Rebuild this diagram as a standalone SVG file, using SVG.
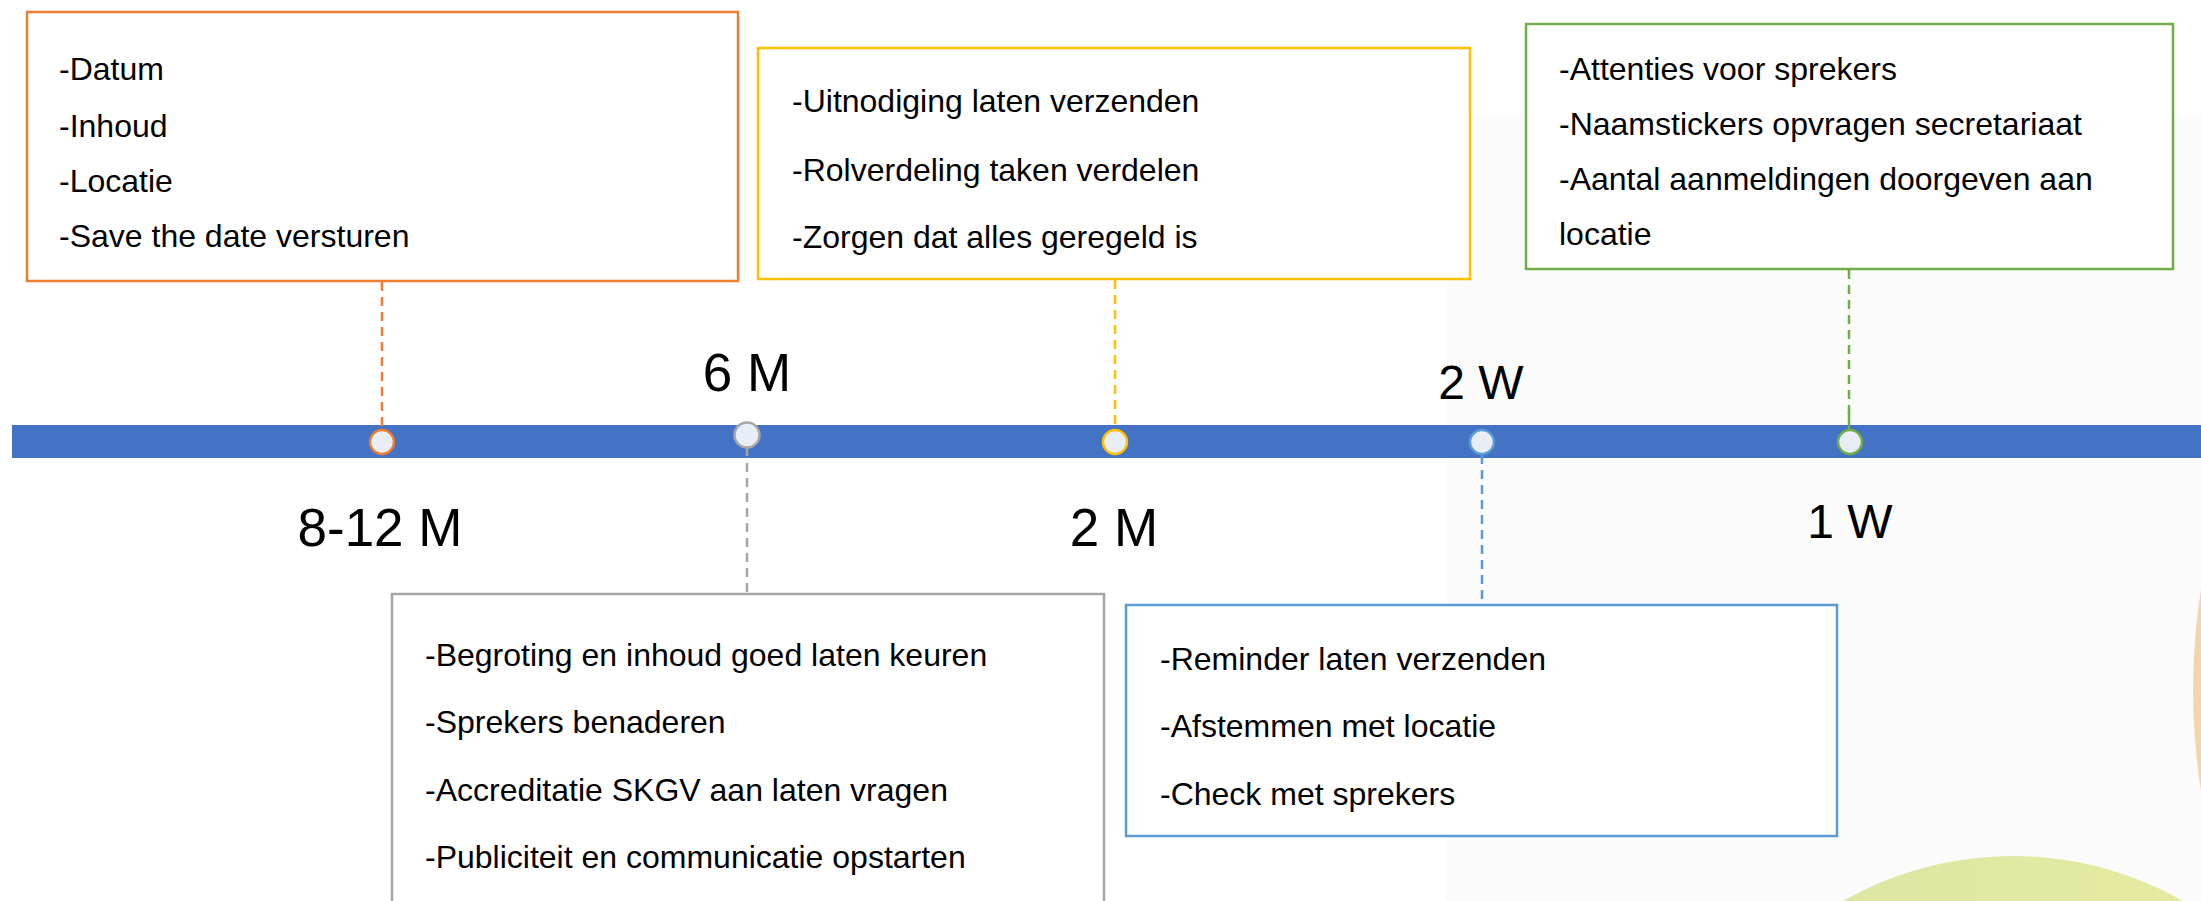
<svg xmlns="http://www.w3.org/2000/svg" width="2201" height="901" viewBox="0 0 2201 901">
  <defs>
    <linearGradient id="gGreen" x1="0" y1="0" x2="1" y2="0">
      <stop offset="0" stop-color="#D8E3A4"/>
      <stop offset="1" stop-color="#EAEDA0"/>
    </linearGradient>
    <linearGradient id="gPeach" x1="0" y1="0" x2="1" y2="0">
      <stop offset="0" stop-color="#F3D4B0"/>
      <stop offset="1" stop-color="#F7DDB8"/>
    </linearGradient>
  </defs>
  <style>
    .box { fill: #FFFFFF; stroke-width: 2.5; }
    .txt { font-family: "Liberation Sans", Arial, sans-serif; font-size: 32px; fill: #000000; }
    .lblM { font-family: "Liberation Sans", Arial, sans-serif; font-size: 53px; fill: #000000; text-anchor: middle; }
    .lblW { font-family: "Liberation Sans", Arial, sans-serif; font-size: 48px; fill: #000000; text-anchor: middle; }
    .dash { stroke-width: 2.5; stroke-dasharray: 9 6; fill: none; }
    .dot { fill: #E9EEF6; stroke-width: 2.5; }
  </style>

  <rect x="0" y="0" width="2201" height="901" fill="#FFFFFF"/>
  <rect x="1447" y="113" width="754" height="788" fill="#FBFBFB"/>
  <ellipse cx="2800" cy="690" rx="607" ry="620" fill="url(#gPeach)"/>
  <circle cx="2013" cy="1199" r="343" fill="url(#gGreen)"/>

  <rect id="timeline-bar" x="12" y="425" width="2189" height="33" fill="#4472C4"/>

  <g id="connectors">
    <line class="dash" x1="382" y1="282" x2="382" y2="429" stroke="#ED7D31"/>
    <line x1="747" y1="447" x2="747" y2="456" stroke="#A5A5A5" stroke-width="2.5"/>
    <line class="dash" x1="747" y1="463" x2="747" y2="593" stroke="#A5A5A5"/>
    <line class="dash" x1="1115" y1="280" x2="1115" y2="429" stroke="#FFC000"/>
    <line class="dash" x1="1482" y1="455" x2="1482" y2="604" stroke="#5B9BD5"/>
    <line class="dash" x1="1849" y1="270" x2="1849" y2="415" stroke="#70AD47"/>
    <line x1="1849" y1="412" x2="1849" y2="429" stroke="#70AD47" stroke-width="2.5"/>
  </g>

  <g id="node-8-12M">
    <rect class="box" x="27" y="12" width="711" height="269" stroke="#ED7D31"/>
    <text class="txt" x="59" y="80">-Datum</text>
    <text class="txt" x="59" y="137">-Inhoud</text>
    <text class="txt" x="59" y="192">-Locatie</text>
    <text class="txt" x="59" y="247">-Save the date versturen</text>
    <circle class="dot" cx="382" cy="442" r="12" stroke="#ED7D31"/>
    <text class="lblM" x="380" y="546">8-12 M</text>
  </g>

  <g id="node-6M">
    <rect class="box" x="392" y="594" width="712" height="330" stroke="#A5A5A5"/>
    <text class="txt" x="425" y="666">-Begroting en inhoud goed laten keuren</text>
    <text class="txt" x="425" y="733">-Sprekers benaderen</text>
    <text class="txt" x="425" y="801">-Accreditatie SKGV aan laten vragen</text>
    <text class="txt" x="425" y="868">-Publiciteit en communicatie opstarten</text>
    <circle class="dot" cx="747" cy="435" r="12.5" stroke="#A5A5A5"/>
    <text class="lblM" x="747" y="391">6 M</text>
  </g>

  <g id="node-2M">
    <rect class="box" x="758" y="48" width="712" height="231" stroke="#FFC000"/>
    <text class="txt" x="792" y="112">-Uitnodiging laten verzenden</text>
    <text class="txt" x="792" y="181">-Rolverdeling taken verdelen</text>
    <text class="txt" x="792" y="248">-Zorgen dat alles geregeld is</text>
    <circle class="dot" cx="1115" cy="442" r="12" stroke="#FFC000"/>
    <text class="lblM" x="1114" y="546">2 M</text>
  </g>

  <g id="node-2W">
    <rect class="box" x="1126" y="605" width="711" height="231" stroke="#5B9BD5"/>
    <text class="txt" x="1160" y="670">-Reminder laten verzenden</text>
    <text class="txt" x="1160" y="737">-Afstemmen met locatie</text>
    <text class="txt" x="1160" y="805">-Check met sprekers</text>
    <circle class="dot" cx="1482" cy="442" r="12" stroke="#5B9BD5"/>
    <text class="lblW" x="1481" y="399">2 W</text>
  </g>

  <g id="node-1W">
    <rect class="box" x="1526" y="24" width="647" height="245" stroke="#70AD47"/>
    <text class="txt" x="1559" y="80">-Attenties voor sprekers</text>
    <text class="txt" x="1559" y="135">-Naamstickers opvragen secretariaat</text>
    <text class="txt" x="1559" y="190">-Aantal aanmeldingen doorgeven aan</text>
    <text class="txt" x="1559" y="245">locatie</text>
    <circle class="dot" cx="1850" cy="442" r="12" stroke="#70AD47"/>
    <text class="lblW" x="1850" y="538">1 W</text>
  </g>
</svg>
